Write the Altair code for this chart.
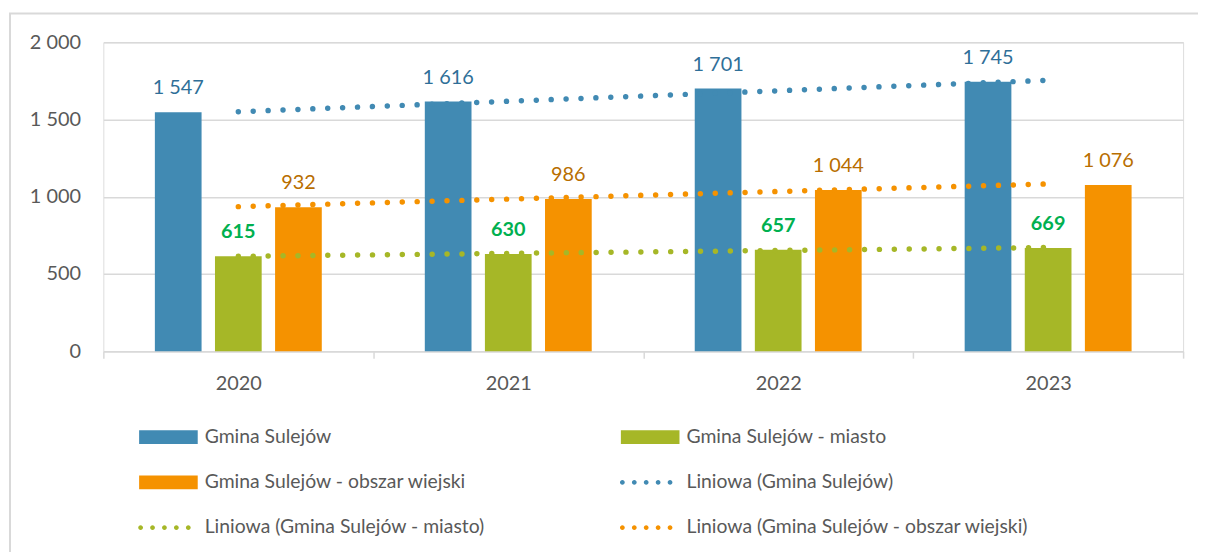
import altair as alt
import pandas as pd

years = ["2020", "2021", "2022", "2023"]
series_names = ["Gmina Sulejów", "Gmina Sulejów - miasto", "Gmina Sulejów - obszar wiejski"]
trend_names = ["Liniowa (Gmina Sulejów)", "Liniowa (Gmina Sulejów - miasto)",
               "Liniowa (Gmina Sulejów - obszar wiejski)"]
gmina = [1547, 1616, 1701, 1745]
miasto = [615, 630, 657, 669]
wies = [932, 986, 1044, 1076]

bar_colors = ["#418AB3", "#A6B727", "#F59200"]
label_colors = ["#2F6F98", "#00B050", "#B86E00"]
label_weights = ["normal", "bold", "normal"]

rows = []
for s, t, vals in zip(series_names, trend_names, [gmina, miasto, wies]):
    for yr, v in zip(years, vals):
        rows.append({"year": yr, "year_num": int(yr), "series": s, "trend": t, "value": v})
df = pd.DataFrame(rows)

FONT = "Lato"
GRID = "#D9D9D9"
TXT = "#595959"

x_scale = alt.Scale(domain=years, paddingInner=0, paddingOuter=0)
x_axis = alt.Axis(labelAngle=0, labelFont=FONT, labelFontSize=20, labelColor=TXT,
                  labelPadding=16, tickSize=7, tickColor=GRID, tickWidth=1.5,
                  domainColor=GRID, domainWidth=1.5, tickBand="extent", grid=False)
y_scale = alt.Scale(domain=[0, 2000], nice=False)
y_axis = alt.Axis(values=[0, 500, 1000, 1500, 2000], labelFont=FONT, labelFontSize=20,
                  labelColor=TXT, labelPadding=23, ticks=False, domain=False,
                  gridColor=GRID, gridWidth=1.5,
                  labelExpr="replace(format(datum.value, ','), ',', ' ')")
xoff_scale = alt.Scale(domain=series_names, paddingInner=0.223, paddingOuter=0.857)
color_scale = alt.Scale(domain=series_names + trend_names, range=bar_colors + bar_colors)

# legend symbols: wide rectangle for bars, five dots for trend lines
rect_path = "M-1,-0.2373H1V0.2373H-1Z"
r = 0.082
dot_centers = [-0.949, -0.542, -0.136, 0.271, 0.678]
dots_path = "".join(
    f"M{c - r:.4f},0A{r},{r} 0 1,0 {c + r:.4f},0A{r},{r} 0 1,0 {c - r:.4f},0Z" for c in dot_centers
)
legend = alt.Legend(
    title=None, orient="none", legendX=36, legendY=368, columns=2, direction="horizontal",
    columnPadding=136, rowPadding=6.5, symbolSize=3481, symbolStrokeWidth=0,
    symbolStrokeColor="transparent",
    symbolType=alt.ExprRef(expr=f"indexof(datum.value, 'Liniowa') == 0 ? '{dots_path}' : '{rect_path}'"),
    symbolFillColor=alt.ExprRef(expr="scale('color', datum.value)"),
    symbolOpacity=1,
    labelFont=FONT, labelFontSize=19.5, labelColor=TXT, labelOffset=7, labelLimit=800,
    padding=0,
)

base = alt.Chart(df)

bars = base.mark_bar().encode(
    x=alt.X("year:N", scale=x_scale, axis=x_axis, title=None),
    xOffset=alt.XOffset("series:N", scale=xoff_scale),
    y=alt.Y("value:Q", scale=y_scale, axis=y_axis, title=None),
    color=alt.Color("series:N", scale=color_scale, legend=legend),
)

trend = base.transform_regression(
    "year_num", "value", groupby=["trend"], method="linear"
).transform_calculate(
    year="toString(datum.year_num)"
).mark_line(strokeWidth=5.5, strokeDash=[0.01, 15], strokeCap="round").encode(
    x=alt.X("year:N", scale=x_scale, axis=x_axis, title=None),
    y=alt.Y("value:Q", scale=y_scale, axis=y_axis, title=None),
    color=alt.Color("trend:N", scale=color_scale, legend=legend),
)

label_layers = []
for s, col, w in zip(series_names, label_colors, label_weights):
    label_layers.append(
        base.transform_filter(alt.datum.series == s).transform_calculate(
            lbl="replace(format(datum.value, ','), ',', ' ')"
        ).mark_text(dy=-18, baseline="alphabetic", align="center", font=FONT,
                    fontSize=20, color=col, fontWeight=w).encode(
            x=alt.X("year:N", scale=x_scale, axis=x_axis, title=None),
            xOffset=alt.XOffset("series:N", scale=xoff_scale),
            y=alt.Y("value:Q", scale=y_scale, axis=y_axis, title=None),
            text="lbl:N",
        )
    )

frame = alt.Chart(pd.DataFrame({"k": [0]})).mark_rect(
    fillOpacity=0, stroke=GRID, strokeWidth=2
).encode(
    x=alt.value(-94), x2=alt.value(1400), y=alt.value(-29), y2=alt.value(800)
)

chart = alt.layer(frame, bars, trend, *label_layers).properties(
    width=1087, height=311,
    autosize=alt.AutoSizeParams(type="none"),
    padding={"left": 96, "top": 32.7, "right": 15, "bottom": 200},
).configure_view(stroke=None).configure(background="white")

chart.save("out.html", embed_options={"renderer": "svg", "actions": False})
